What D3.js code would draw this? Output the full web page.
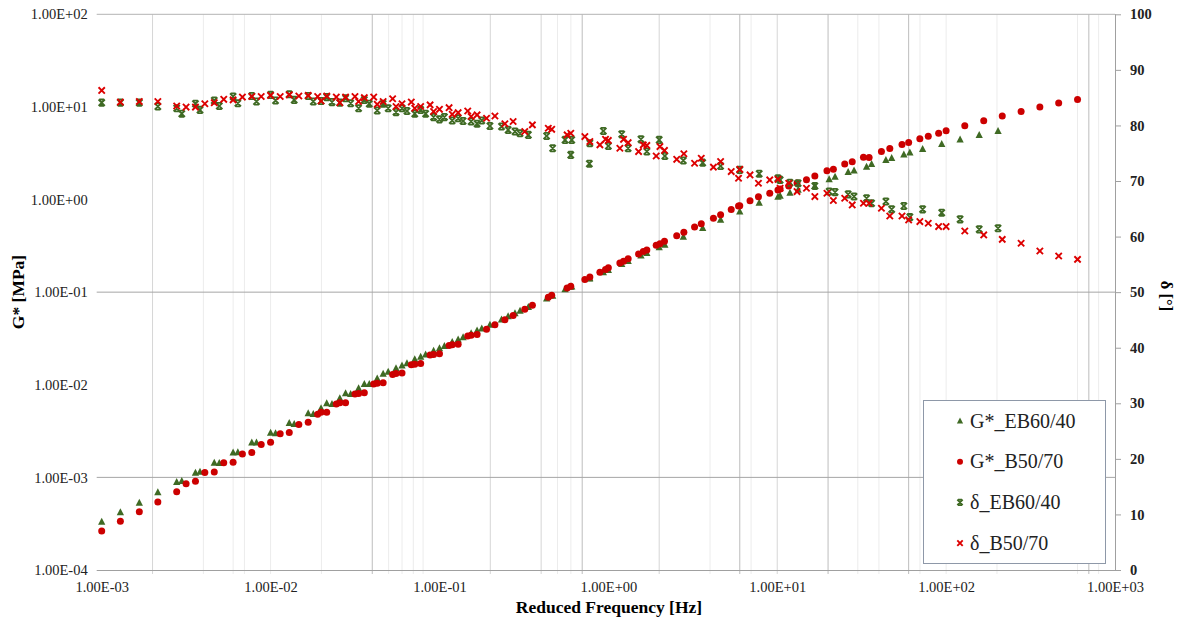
<!DOCTYPE html>
<html>
<head>
<meta charset="utf-8">
<script src="https://cdn.jsdelivr.net/npm/d3@7"></script>
<style>
  body { margin: 0; background: #fff; }
  svg { font-family: "Liberation Serif", "Times New Roman", serif; }
</style>
</head>
<body>
<script>
// ---- données ----
// B50/70 : fréquence réduite [Hz], G* [MPa], delta [°]
const freqB = [1.00e-3, 1.29e-3, 1.67e-3, 2.15e-3, 2.78e-3, 3.16e-3, 3.59e-3, 4.08e-3, 4.64e-3, 5.28e-3,
  6.00e-3, 6.81e-3, 7.74e-3, 8.80e-3, 1.00e-2, 1.14e-2, 1.29e-2, 1.47e-2, 1.67e-2,
  1.90e-2, 1.99e-2, 2.15e-2, 2.45e-2, 2.57e-2, 2.78e-2, 3.16e-2, 3.32e-2, 3.59e-2,
  4.08e-2, 4.28e-2, 4.64e-2, 5.28e-2, 5.53e-2, 6.00e-2, 6.81e-2, 7.14e-2, 7.74e-2,
  8.80e-2, 9.23e-2, 0.100, 0.114, 0.119, 0.129, 0.147, 0.154, 0.167,
  0.190, 0.213, 0.244, 0.273, 0.320, 0.355, 0.441, 0.462, 0.570, 0.599, 0.726, 0.777,
  0.891, 0.962, 1.00, 1.17, 1.23, 1.31, 1.51, 1.61, 1.69, 1.92, 2.02, 2.15, 2.54, 2.80,
  3.24, 3.55, 4.19, 4.62, 5.34, 5.90, 6.00, 6.90, 7.74, 9.03, 10.1, 10.4, 11.7, 13.1, 14.9,
  16.7, 19.7, 21.5, 25.1, 27.8, 32.4, 35.0, 41.4, 46.4, 54.8, 60.0, 69.9, 78.4, 90.3,
  100, 129, 167, 215, 278, 359, 464, 600];
const gB = [2.63e-4, 3.37e-4, 4.25e-4, 5.41e-4, 7.00e-4, 8.53e-4, 9.06e-4, 1.13e-3, 1.14e-3, 1.44e-3,
  1.46e-3, 1.79e-3, 1.86e-3, 2.27e-3, 2.39e-3, 2.96e-3, 3.06e-3, 3.73e-3, 3.93e-3,
  4.79e-3, 5.04e-3, 5.04e-3, 6.19e-3, 6.40e-3, 6.40e-3, 7.94e-3, 8.07e-3, 8.20e-3,
  1.02e-2, 1.04e-2, 1.05e-2, 1.29e-2, 1.32e-2, 1.34e-2, 1.64e-2, 1.67e-2, 1.70e-2,
  2.09e-2, 2.12e-2, 2.16e-2, 2.65e-2, 2.70e-2, 2.74e-2, 3.37e-2, 3.43e-2, 3.48e-2,
  0.0398, 0.0444, 0.0505, 0.0561, 0.0653, 0.0723, 0.0883, 0.0927, 0.111, 0.116, 0.137, 0.146,
  0.164, 0.176, 0.183, 0.206, 0.216, 0.230, 0.258, 0.274, 0.285, 0.321, 0.334, 0.355, 0.406, 0.444,
  0.505, 0.547, 0.627, 0.684, 0.780, 0.850, 0.855, 0.968, 1.07, 1.17, 1.27, 1.30, 1.40, 1.51, 1.64,
  1.79, 2.05, 2.12, 2.42, 2.56, 2.86, 2.84, 3.30, 3.55, 3.93, 4.13, 4.54, 4.83, 5.19,
  5.53, 6.25, 7.08, 7.97, 8.92, 9.97, 11.0, 12.0];
const deltaB = [86.3, 84.2, 84.3, 84.3, 83.5, 83.3, 83.3, 83.9, 84.1, 84.7,
  84.6, 85.1, 85.2, 85.2, 85.4, 85.2, 85.5, 85.3, 85.4,
  85.2, 84.4, 85.3, 85.1, 84.1, 85.1, 85.2, 84.3, 85.0,
  85.1, 83.8, 84.3, 84.8, 83.4, 83.9, 84.2, 83.1, 83.4,
  83.7, 82.5, 82.9, 83.2, 82.0, 82.3, 82.6, 81.6, 81.9,
  81.3, 81.7, 80.3, 80.7, 78.9, 80.1, 79.5, 79.3, 78.3, 78.6, 78.0, 77.1,
  76.5, 77.5, 77.3, 75.9, 77.5, 76.9, 75.3, 76.5, 76.4, 74.5, 76.2, 75.5, 73.9, 74.9,
  73.2, 74.1, 72.5, 73.5, 71.7, 70.5, 72.1, 71.1, 69.6, 70.2, 70.3, 68.7, 69.6, 68.1, 68.7,
  67.2, 67.8, 66.5, 66.9, 65.7, 66.0, 66.0, 65.1, 63.7, 63.7, 63.0, 62.7, 62.4, 61.8,
  61.8, 61.0, 60.3, 59.5, 58.8, 57.4, 56.5, 55.9];

// EB60/40
const freqEB = [1.00e-3, 1.29e-3, 1.67e-3, 2.15e-3, 2.78e-3, 2.98e-3, 3.59e-3, 3.82e-3, 4.64e-3, 4.97e-3,
  6.00e-3, 6.40e-3, 7.74e-3, 8.25e-3, 1.00e-2, 1.07e-2, 1.29e-2, 1.38e-2, 1.67e-2, 1.79e-2,
  1.99e-2, 2.15e-2, 2.31e-2, 2.57e-2, 2.78e-2, 2.98e-2, 3.32e-2, 3.59e-2, 3.84e-2,
  4.28e-2, 4.64e-2, 4.97e-2, 5.53e-2, 6.00e-2, 6.42e-2, 7.14e-2, 7.74e-2, 8.28e-2,
  9.23e-2, 0.100, 0.107, 0.119, 0.129, 0.138, 0.154, 0.167, 0.178,
  0.199, 0.233, 0.255, 0.280, 0.300, 0.336, 0.431, 0.468, 0.554, 0.599, 0.607, 0.772, 0.777,
  0.934, 1.00, 1.20, 1.31, 1.56, 1.69, 2.00, 2.16, 2.78, 3.62, 4.62, 6.00, 7.82,
  10.1, 10.4, 11.9, 13.3, 16.7, 20.3, 22.0, 26.3, 28.5, 33.8, 36.2, 44.0, 47.6,
  56.2, 61.0, 72.6, 94.2, 121, 157, 203];
const gEB = [3.32e-4, 4.19e-4, 5.32e-4, 6.89e-4, 8.89e-4, 9.12e-4, 1.12e-3, 1.15e-3, 1.44e-3, 1.43e-3,
  1.85e-3, 1.86e-3, 2.37e-3, 2.37e-3, 3.03e-3, 2.99e-3, 3.86e-3, 3.77e-3, 4.91e-3, 4.83e-3,
  5.56e-3, 6.30e-3, 6.19e-3, 7.13e-3, 8.07e-3, 7.94e-3, 9.14e-3, 1.02e-2, 1.02e-2,
  1.17e-2, 1.31e-2, 1.38e-2, 1.51e-2, 1.61e-2, 1.71e-2, 1.88e-2, 2.01e-2, 2.12e-2,
  2.32e-2, 2.48e-2, 2.61e-2, 2.89e-2, 3.08e-2, 3.25e-2, 3.59e-2, 3.84e-2, 4.04e-2,
  0.0444, 0.0507, 0.0548, 0.0592, 0.0627, 0.0689, 0.0851, 0.0912, 0.107, 0.114, 0.115, 0.140, 0.141,
  0.164, 0.173, 0.201, 0.216, 0.249, 0.265, 0.305, 0.325, 0.397, 0.493, 0.603, 0.741, 0.923,
  1.07, 1.10, 1.18, 1.27, 1.40, 1.65, 1.76, 1.98, 2.06, 2.26, 2.42, 2.67, 2.81,
  3.06, 3.22, 3.51, 3.97, 4.45, 4.98, 5.50];
const deltaEB = [84.1, 84.1, 84.1, 83.4, 83.1, 82.1, 83.9, 82.8, 84.5, 83.5,
  85.2, 84.0, 85.3, 84.3, 85.5, 84.5, 85.6, 84.6, 85.3, 84.3,
  84.4, 85.1, 84.2, 84.1, 84.9, 84.0, 83.1, 84.6, 83.9,
  82.7, 83.9, 83.1, 82.4, 83.1, 82.6, 82.1, 82.8, 82.1,
  81.5, 81.1, 81.5, 80.9, 81.3, 80.8, 80.7, 80.3, 80.9,
  79.9, 79.8, 79.2, 78.9, 78.6, 78.3, 78.1, 75.9, 77.4, 74.7, 77.4, 73.1, 76.8,
  79.0, 76.3, 78.4, 75.9, 77.5, 75.3, 77.4, 74.5, 73.7, 73.3, 72.7, 72.0, 71.3,
  70.5, 70.2, 69.7, 69.6, 69.1, 68.1, 68.0, 67.6, 67.2, 66.9, 66.0, 66.3, 64.9,
  65.5, 63.5, 64.9, 64.3, 63.1, 61.3, 61.5];

// axes
const xTicks = [1e-3, 1e-2, 1e-1, 1e0, 1e1, 1e2, 1e3];
const xTickLabels = ["1.00E-03", "1.00E-02", "1.00E-01", "1.00E+00", "1.00E+01", "1.00E+02", "1.00E+03"];
const gTicks = [1e-4, 1e-3, 1e-2, 1e-1, 1e0, 1e1, 1e2];
const gTickLabels = ["1.00E-04", "1.00E-03", "1.00E-02", "1.00E-01", "1.00E+00", "1.00E+01", "1.00E+02"];
const dTicks = [0, 10, 20, 30, 40, 50, 60, 70, 80, 90, 100];

// lignes de grille verticales (telles qu'elles apparaissent)
const gridDark = [4e-2, 0.7, 6, 20, 60, 700];
const gridMid = [2e-3, 0.2, 0.4, 2, 10];
const gridLight = [4e-3, 6e-3, 7e-3, 1e-2, 2e-2, 5e-2, 6e-2, 7e-2, 8e-2, 0.5, 0.6, 4, 7, 30, 40, 70, 100, 200, 600, 800];
const gridH = [1e-3, 1e-1];

const series = [
  {name: "G*_EB60/40", f: freqEB, v: gEB, axis: "g", mark: "tri", color: "#3f6a24"},
  {name: "G*_B50/70", f: freqB, v: gB, axis: "g", mark: "circle", color: "#cc0000"},
  {name: "δ_EB60/40", f: freqEB, v: deltaEB, axis: "d", mark: "star", color: "#3f6a24"},
  {name: "δ_B50/70", f: freqB, v: deltaB, axis: "d", mark: "x", color: "#dd0000"}
];

// ---- canevas ----
const W = 1180, H = 620;
const svg = d3.select("body").append("svg")
  .attr("width", W)
  .attr("height", H);

const x = d3.scaleLog().domain([1e-3, 1e3]).range([101.7, 1115]);
const yG = d3.scaleLog().domain([1e-4, 1e2]).range([570, 14.3]);
const yD = d3.scaleLinear().domain([0, 100]).range([570, 14.3]);

// grille
const grid = svg.append("g");
[[gridLight, "#ececec"], [gridMid, "#d6d6d6"], [gridDark, "#bdbdbd"]].forEach(([vals, col]) => {
  grid.selectAll(null)
    .data(vals)
    .enter()
    .append("line")
      .attr("x1", d => x(d)).attr("x2", d => x(d))
      .attr("y1", yG(1e2)).attr("y2", yG(1e-4) + 4)
      .style("stroke", col);
});
grid.selectAll(null)
  .data(gridH)
  .enter()
  .append("line")
    .attr("x1", x(1e-3) - 5).attr("x2", x(1e3))
    .attr("y1", d => yG(d)).attr("y2", d => yG(d))
    .style("stroke", "#a6a6a6");
grid.append("line")
  .attr("x1", x(1e-3) - 5).attr("x2", x(1e3))
  .attr("y1", yG(1e2)).attr("y2", yG(1e2))
  .style("stroke", "#b3b3b3");

// axe des X
const axX = svg.append("g")
  .attr("transform", `translate(0,${yG(1e-4)})`)
  .call(d3.axisBottom(x).tickValues(xTicks).tickFormat((d, i) => xTickLabels[i]).tickSize(0).tickPadding(12))
  .attr("font-family", null).attr("font-size", null);
axX.select(".domain").attr("d", `M${x(1e-3) - 5},0.5H${x(1e3)}`).style("stroke", "#a0a0a0");
axX.selectAll("text").style("font-size", "14.5px").attr("fill", "#222");

// axe des G*
const axG = svg.append("g")
  .attr("transform", `translate(${x(1e-3)},0)`)
  .call(d3.axisLeft(yG).tickValues(gTicks).tickFormat((d, i) => gTickLabels[i]).tickSize(0).tickPadding(14))
  .attr("font-family", null).attr("font-size", null);
axG.select(".domain").remove();
axG.selectAll("text").style("font-size", "14.5px").attr("fill", "#222");

// axe des delta
const axD = svg.append("g")
  .attr("transform", `translate(${x(1e3)},0)`)
  .call(d3.axisRight(yD).tickValues(dTicks).tickSize(6).tickPadding(9))
  .attr("font-family", null).attr("font-size", null);
axD.select(".domain").attr("d", `M0.5,${yD(100)}V${yD(0)}`).style("stroke", "#a0a0a0");
axD.selectAll("line").style("stroke", "#a0a0a0");
axD.selectAll("text").style("font-size", "14.5px").style("font-weight", "bold").attr("fill", "#222");

// titres
svg.append("text")
  .attr("x", 609).attr("y", 613)
  .attr("text-anchor", "middle")
  .style("font-size", "17.5px").style("font-weight", "bold")
  .text("Reduced Frequency [Hz]");
svg.append("text")
  .attr("transform", "translate(24,292) rotate(-90)")
  .attr("text-anchor", "middle")
  .style("font-size", "17.5px").style("font-weight", "bold")
  .text("G* [MPa]");
svg.append("text")
  .attr("transform", "translate(1161,296) rotate(90)")
  .attr("text-anchor", "middle")
  .style("font-size", "16.5px").style("font-weight", "bold")
  .text("δ [°]");

// marqueurs
function marker(sel, type, color, s) {
  if (type === "tri") {
    sel.append("path").attr("d", `M0,${-s * 0.58}L${s * 0.52},${s * 0.42}L${-s * 0.52},${s * 0.42}Z`).style("fill", color);
  } else if (type === "circle") {
    sel.append("circle").attr("r", s * 0.5).style("fill", color);
  } else if (type === "x") {
    const h = s * 0.45;
    sel.append("path").attr("d", `M${-h},${-h}L${h},${h}M${h},${-h}L${-h},${h}`)
      .style("stroke", color).style("stroke-width", 1.9).style("fill", "none");
  } else {
    const h = s * 0.45;
    sel.append("path").attr("d", `M${-h},${-h}L${h},${h}M${h},${-h}L${-h},${h}M${-h * 0.75},${-h}H${h * 0.75}M${-h * 0.75},${h}H${h * 0.75}`)
      .style("stroke", color).style("stroke-width", 1.8).style("fill", "none");
  }
}

const plot = svg.append("g");
series.forEach(s => {
  const y = s.axis === "g" ? yG : yD;
  plot.append("g").selectAll("g")
    .data(d3.zip(s.f, s.v))
    .enter()
    .append("g")
      .attr("transform", d => `translate(${x(d[0])},${y(d[1])})`)
      .each(function() { marker(d3.select(this), s.mark, s.color, 7); });
});

// légende
const leg = svg.append("g");
leg.append("rect")
  .attr("x", 923.5).attr("y", 400.5)
  .attr("width", 182).attr("height", 163)
  .style("fill", "#fff").style("stroke", "#8e98a8");
series.forEach((s, i) => {
  const g = leg.append("g").attr("transform", `translate(0,${421 + i * 40.7})`);
  g.append("g").attr("transform", "translate(960,0)").each(function() { marker(d3.select(this), s.mark, s.color, 6); });
  g.append("text").attr("x", 970).attr("y", 6.5)
    .style("font-size", "20px").attr("fill", "#222")
    .text(s.name);
});
</script>
</body>
</html>
